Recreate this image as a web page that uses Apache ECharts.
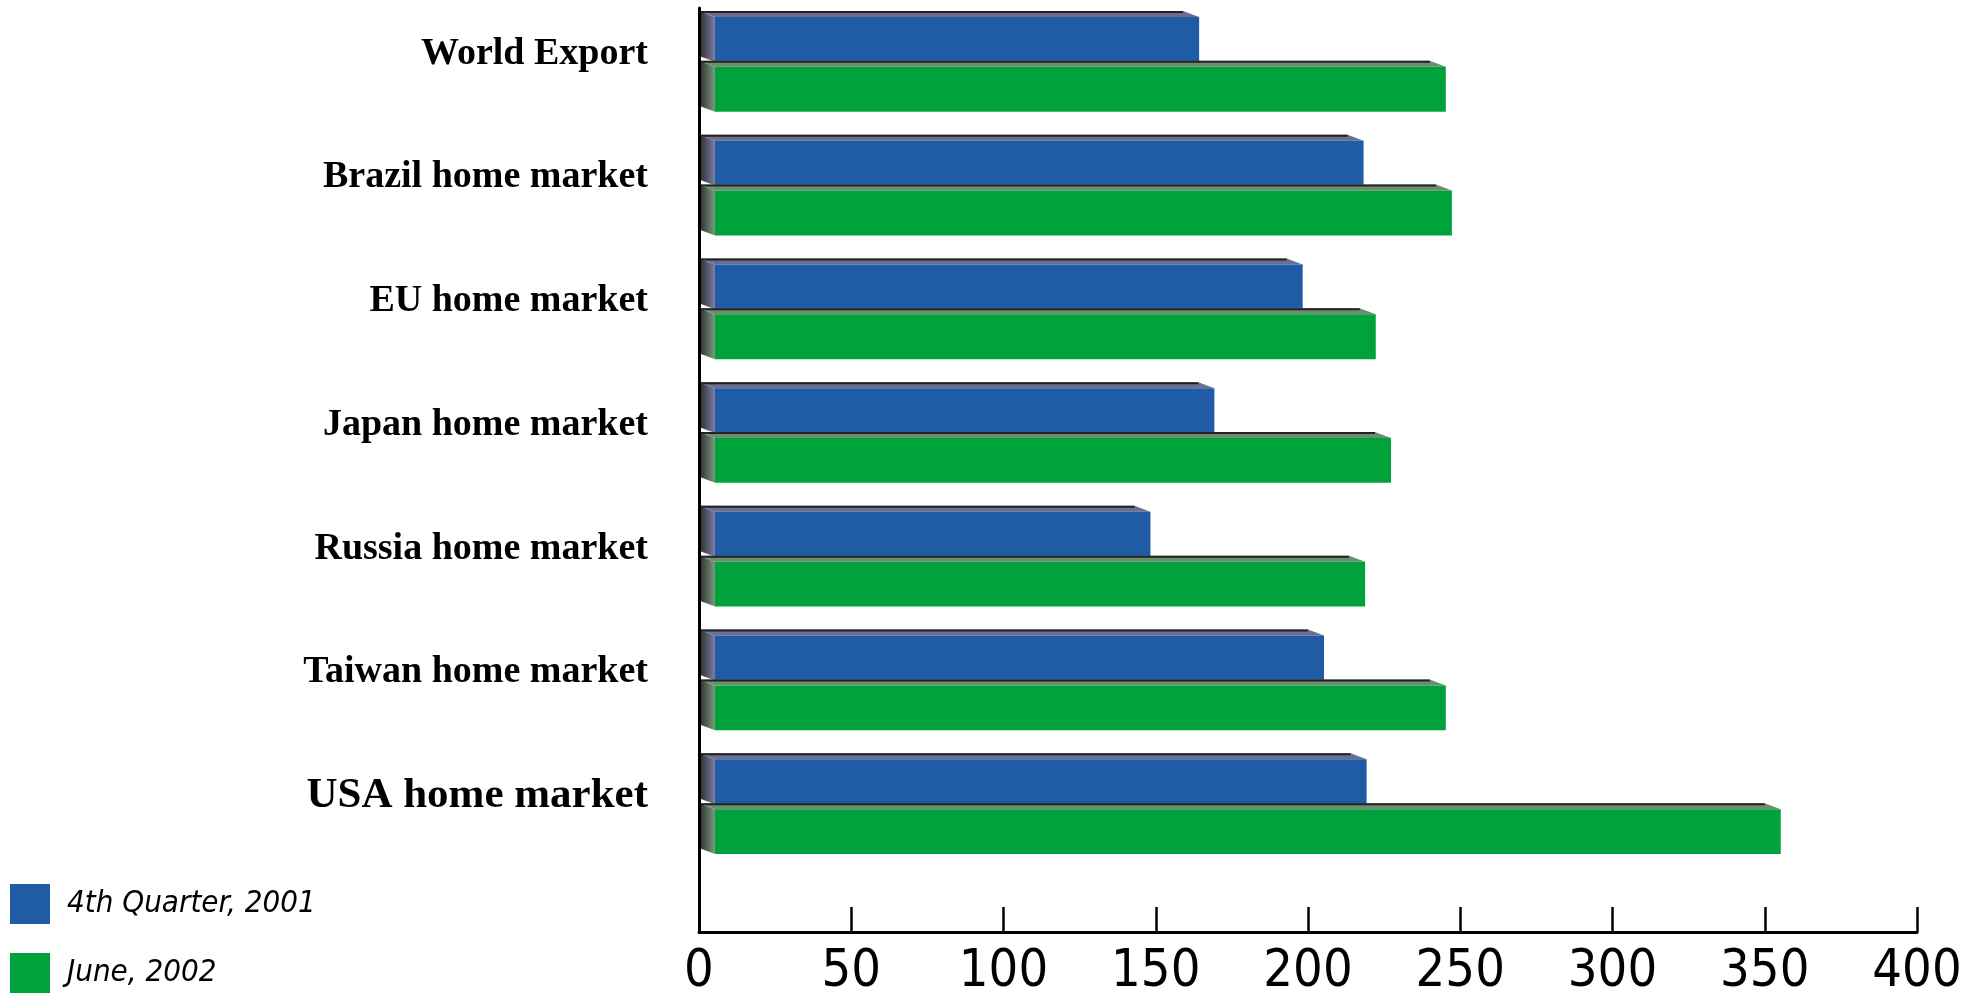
<!DOCTYPE html>
<html>
<head>
<meta charset="utf-8">
<script src="https://cdn.jsdelivr.net/npm/echarts@6/dist/echarts.min.js"></script>
<style>
html,body{margin:0;padding:0;background:#fff;}
#chart{width:1973px;height:1002px;}
</style>
</head>
<body>
<div id="chart"></div>
<script>
var categories = ['World Export','Brazil home market','EU home market','Japan home market','Russia home market','Taiwan home market','USA home market'];
var seriesNames = ['4th Quarter, 2001','June, 2002'];
var q4_2001 = [159, 213, 193, 164, 143, 200, 214];
var june_2002 = [240, 242, 217, 222, 213.5, 240, 350];
var xMin = 0, xMax = 400, xStep = 50;

var faceColors = ['#205BA6', '#00A33B'];
var topColors = ['#6A6E90', '#6E8C70'];
var sideLight = ['#7C7FA3', '#7C9A7E'];
var condensed = "'Liberation Sans Narrow','DejaVu Sans Condensed','DejaVu Sans',sans-serif";

function renderItem(params, api) {
  var v = api.value(0), ci = api.value(1);
  var p0 = api.coord([0, ci]);
  var p1 = api.coord([v, ci]);
  var band = api.size([0, 1])[1];
  var u = band / 124.1;
  var k = params.seriesIndex;
  var c = p0[1];
  var dx = 16, dy = 6 * u;
  var x0 = p0[0], xv = p1[0];
  var backTop = c + (-51 + 50 * k) * u;
  var frontTop = backTop + dy;
  var frontBottom = frontTop + 45 * u;
  var children = [
    { type: 'polygon', shape: { points: [[x0, backTop], [x0 + dx, frontTop], [x0 + dx, frontBottom], [x0, frontBottom - dy]] },
      style: { fill: new echarts.graphic.LinearGradient(0, 0, 1, 0, [{offset: 0, color: '#2a2a2a'}, {offset: 1, color: sideLight[k]}]) } },
    { type: 'polygon', shape: { points: [[x0, backTop], [xv, backTop], [xv + dx, frontTop], [x0 + dx, frontTop]] },
      style: { fill: topColors[k] } },
    { type: 'polyline', shape: { points: [[x0, backTop + 1], [xv, backTop + 1]] },
      style: { stroke: '#222', lineWidth: 2, fill: null } },
    { type: 'rect', shape: { x: x0 + dx, y: frontTop, width: Math.max(0, xv - x0), height: frontBottom - frontTop },
      style: { fill: faceColors[k] } }
  ];
  return { type: 'group', children: children };
}

function toData(arr) { return arr.map(function (v, i) { return [v, i]; }); }

var chart = echarts.init(document.getElementById('chart'));
chart.setOption({
  backgroundColor: '#fff',
  animation: false,
  grid: [
    { left: 699, right: 56, top: -3, height: 869 },
    { left: 699, right: 56, top: 8, bottom: 70 }
  ],
  xAxis: [
    { gridIndex: 0, type: 'value', min: xMin, max: xMax, interval: xStep, show: false },
    { gridIndex: 1, type: 'value', min: xMin, max: xMax, interval: xStep, z: 5,
      axisLine: { show: true, lineStyle: { color: '#000', width: 3 } },
      axisTick: { show: true, inside: true, length: 25, lineStyle: { color: '#000', width: 2.5 } },
      splitLine: { show: false },
      axisLabel: { margin: 14, color: '#000', fontSize: 52, fontFamily: condensed } }
  ],
  yAxis: [
    { gridIndex: 0, type: 'category', inverse: true, data: categories,
      axisLine: { show: false }, axisTick: { show: false }, splitLine: { show: false },
      axisLabel: { margin: 51, color: '#000', fontSize: 38, fontWeight: 'bold', fontFamily: "'Liberation Serif',serif",
        padding: [0, 0, 16, 0],
        formatter: function (v, i) { return i === categories.length - 1 ? '{usa|' + v + '}' : v; },
        rich: { usa: { fontSize: 43, fontWeight: 900, fontFamily: "'Liberation Serif',serif", color: '#000' } } } },
    { gridIndex: 1, type: 'value', min: 0, max: 1, z: 5,
      axisLine: { show: true, lineStyle: { color: '#000', width: 3 } },
      axisTick: { show: false }, axisLabel: { show: false }, splitLine: { show: false } }
  ],
  legend: {
    orient: 'vertical', left: 10, top: 884, height: 118, padding: 0,
    itemWidth: 40, itemHeight: 40, itemGap: 29,
    icon: 'rect',
    data: seriesNames,
    textStyle: { fontSize: 31, fontStyle: 'italic', color: '#000', padding: [0, 0, 0, 12], fontFamily: condensed }
  },
  series: [
    { name: seriesNames[0], type: 'custom', xAxisIndex: 0, yAxisIndex: 0, renderItem: renderItem,
      itemStyle: { color: faceColors[0] }, encode: { x: 0, y: 1 }, data: toData(q4_2001) },
    { name: seriesNames[1], type: 'custom', xAxisIndex: 0, yAxisIndex: 0, renderItem: renderItem,
      itemStyle: { color: faceColors[1] }, encode: { x: 0, y: 1 }, data: toData(june_2002) }
  ]
});
</script>
</body>
</html>
